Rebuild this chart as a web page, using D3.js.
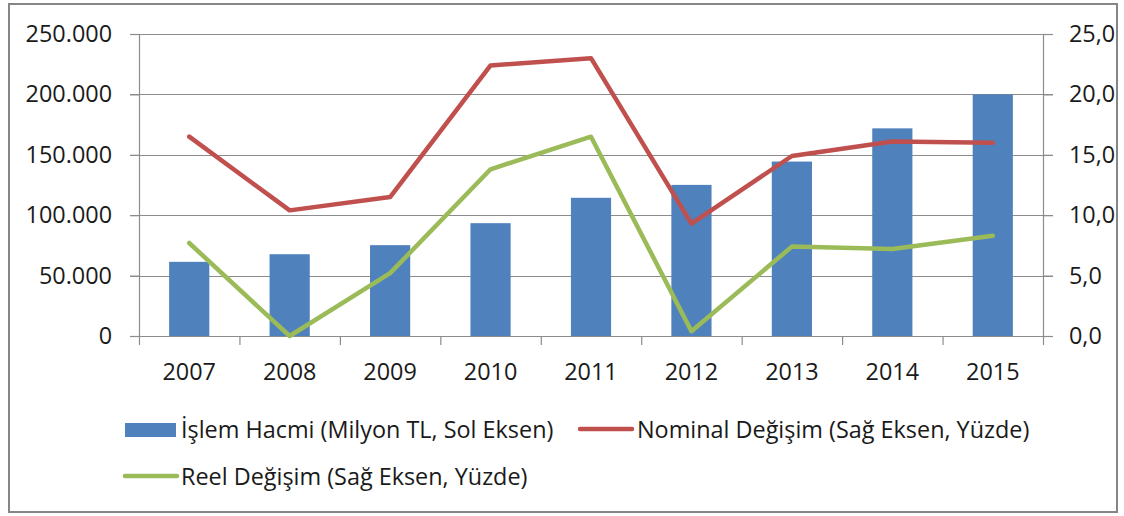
<!DOCTYPE html>
<html>
<head>
<meta charset="utf-8">
<script src="https://cdn.jsdelivr.net/npm/d3@7"></script>
<style>
  body { margin: 0; background: #fff; }
  text { font-family: "Open Sans", sans-serif; fill: #1a1a1a; }
</style>
</head>
<body>
<svg id="chart" width="1124" height="516"></svg>
<script>
var years = ["2007", "2008", "2009", "2010", "2011", "2012", "2013", "2014", "2015"];
var hacim = [61400, 67700, 75200, 93400, 114400, 125100, 144400, 171900, 200000];
var nominal = [16.5, 10.4, 11.5, 22.4, 23.0, 9.3, 14.9, 16.1, 16.0];
var reel = [7.7, 0.0, 5.2, 13.8, 16.5, 0.4, 7.4, 7.2, 8.3];
var leftTicks = [0, 50000, 100000, 150000, 200000, 250000];
var rightTicks = [0, 5, 10, 15, 20, 25];
var legendNames = ["İşlem Hacmi (Milyon TL, Sol Eksen)", "Nominal Değişim (Sağ Eksen, Yüzde)", "Reel Değişim (Sağ Eksen, Yüzde)"];

var svg = d3.select("#chart"),
    FONT = "23.4px",
    M = { top: 34, right: 1043, bottom: 336, left: 139 },
    BLUE = "#4f81bd",
    RED = "#c0504d",
    GREEN = "#9bbb59",
    GRID = "#8c8c8c";

var x = d3.scaleBand().domain(years).range([M.left, M.right]).paddingInner(0.6).paddingOuter(0.3),
    xEdge = d3.scaleLinear().domain([0, years.length]).range([M.left, M.right]),
    yL = d3.scaleLinear().domain([0, 250000]).range([M.bottom, M.top]),
    yR = d3.scaleLinear().domain([0, 25]).range([M.bottom, M.top]);

var fmtL = function(d) { return d === 0 ? "0" : d3.format(",")(d).replace(/,/g, "."); };
var fmtR = function(d) { return d3.format(".1f")(d).replace(".", ","); };

// outer frame
svg.append("rect")
    .attr("x", 9).attr("y", 4)
    .attr("width", 1108).attr("height", 508)
    .attr("fill", "#fff")
    .attr("stroke", "#868686")
    .attr("stroke-width", 2);

// grid lines
svg.append("g").selectAll("line")
    .data(leftTicks.slice(1))
    .enter().append("line")
    .attr("x1", M.left - 9).attr("x2", M.right + 10)
    .attr("y1", function(d) { return Math.round(yL(d)) + 0.5; })
    .attr("y2", function(d) { return Math.round(yL(d)) + 0.5; })
    .attr("stroke", GRID).attr("stroke-width", 1.2);

// left axis
var gL = svg.append("g")
    .attr("transform", "translate(" + M.left + ",0)")
    .call(d3.axisLeft(yL).tickValues(leftTicks).tickFormat(fmtL).tickSize(9).tickPadding(18));

// right axis
var gR = svg.append("g")
    .attr("transform", "translate(" + M.right + ",0)")
    .call(d3.axisRight(yR).tickValues(rightTicks).tickFormat(fmtR).tickSize(10).tickPadding(16));

[gL, gR].forEach(function(g) {
  g.select(".domain").attr("stroke", GRID).attr("stroke-width", 1.2);
  g.selectAll(".tick line").attr("stroke", GRID).attr("stroke-width", 1.2);
});

// x axis: tick marks on category edges, labels on centers
var gX = svg.append("g")
    .attr("transform", "translate(0," + M.bottom + ")")
    .call(d3.axisBottom(xEdge).tickValues(d3.range(years.length + 1)).tickFormat("").tickSize(9).tickSizeOuter(0));
gX.select(".domain").attr("stroke", GRID).attr("stroke-width", 1.2);
gX.selectAll(".tick line").attr("stroke", GRID).attr("stroke-width", 1.2);

var gXl = svg.append("g")
    .attr("transform", "translate(0," + M.bottom + ")")
    .call(d3.axisBottom(x).tickSize(0).tickPadding(27));
gXl.select(".domain").remove();

svg.selectAll(".tick text")
    .attr("fill", "#1a1a1a")
    .style("font-family", "Open Sans")
    .style("font-size", FONT);

// bars
svg.append("g").selectAll("rect")
    .data(hacim)
    .enter().append("rect")
    .attr("x", function(d, i) { return x(years[i]); })
    .attr("y", function(d) { return yL(d); })
    .attr("width", x.bandwidth())
    .attr("height", function(d) { return yL(0) - yL(d); })
    .attr("fill", BLUE);

var line = d3.line()
    .x(function(d, i) { return x(years[i]) + x.bandwidth() / 2; })
    .y(function(d) { return yR(d); });

svg.append("path")
    .attr("d", line(nominal))
    .attr("fill", "none").attr("stroke", RED).attr("stroke-width", 4.5)
    .attr("stroke-linejoin", "round").attr("stroke-linecap", "round");

svg.append("path")
    .attr("d", line(reel))
    .attr("fill", "none").attr("stroke", GREEN).attr("stroke-width", 4.5)
    .attr("stroke-linejoin", "round").attr("stroke-linecap", "round");

// legend
var leg = svg.append("g");
leg.append("rect").attr("x", 125).attr("y", 423).attr("width", 51).attr("height", 14).attr("fill", BLUE);
leg.append("text").attr("x", 181).attr("y", 430).attr("dy", "0.35em").style("font-size", FONT).text(legendNames[0]);

leg.append("line").attr("x1", 580).attr("x2", 632).attr("y1", 429).attr("y2", 429)
    .attr("stroke", RED).attr("stroke-width", 4.5).attr("stroke-linecap", "round");
leg.append("text").attr("x", 637).attr("y", 430).attr("dy", "0.35em").style("font-size", FONT).text(legendNames[1]);

leg.append("line").attr("x1", 125).attr("x2", 177).attr("y1", 476).attr("y2", 476)
    .attr("stroke", GREEN).attr("stroke-width", 4.5).attr("stroke-linecap", "round");
leg.append("text").attr("x", 181).attr("y", 477).attr("dy", "0.35em").style("font-size", FONT).text(legendNames[2]);
</script>
</body>
</html>
